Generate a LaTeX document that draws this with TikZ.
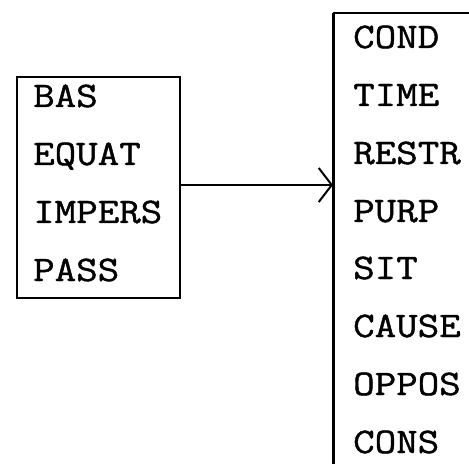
\documentclass[tikz,border=0pt]{standalone}
\usepackage{fontspec}
\newfontfamily\typewriter[FakeStretch=1.16,FakeBold=1.2]{Latin Modern Mono}
\usetikzlibrary{arrows.meta}
\tikzset{
  lbl/.style={anchor=base west, inner sep=0pt, font=\typewriter\fontsize{36bp}{40bp}\selectfont},
  frame/.style={draw=black, line width=2bp},
  link/.style={draw=black, line width=2bp, -{Straight Barb[length=13bp,width=34bp,line width=2bp]}}
}
\begin{document}
\begin{tikzpicture}[x=1bp,y=-1bp]
\useasboundingbox (0,0) rectangle (469,464);
% left box
\node[frame, anchor=north west, minimum width=163bp, minimum height=221bp, inner sep=0pt] (L) at (16,76) {};
\node[lbl] (bas) at (33,107) {BAS};
\node[lbl] (equat) at (33,165) {EQUAT};
\node[lbl] (impers) at (33,223) {IMPERS};
\node[lbl] (pass) at (33,281) {PASS};
% right box (open to the right and bottom)
\coordinate (Rtl) at (333,13);
\coordinate (Rtr) at (469,13);
\coordinate (Rbl) at (333,464);
\coordinate (Rin) at (333,185);
\draw[line width=2bp] (Rtl) -- (Rtr);
\draw[line width=3bp] (Rtl) -- (Rbl);
\node[lbl] (cond) at (353,48) {COND};
\node[lbl] (time) at (353,106) {TIME};
\node[lbl] (restr) at (353,164) {RESTR};
\node[lbl] (purp) at (353,222) {PURP};
\node[lbl] (sit) at (353,279) {SIT};
\node[lbl] (cause) at (353,337) {CAUSE};
\node[lbl] (oppos) at (353,395) {OPPOS};
\node[lbl] (cons) at (353,453) {CONS};
% connector
\draw[link] (L.east |- Rin) -- (Rin);
\end{tikzpicture}
\end{document}
